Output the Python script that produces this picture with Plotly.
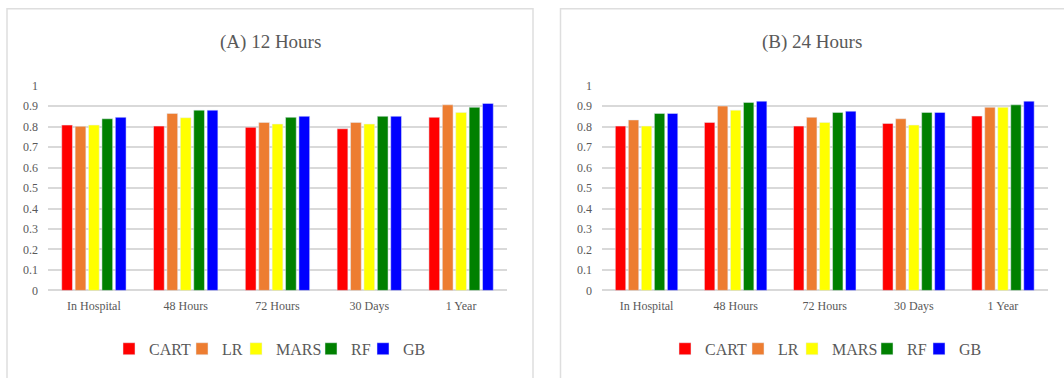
import plotly.graph_objects as go

categories = ["In Hospital", "48 Hours", "72 Hours", "30 Days", "1 Year"]
models = ["CART", "LR", "MARS", "RF", "GB"]
colors = ["#FF0000", "#ED7D31", "#FFFF00", "#008000", "#0000FF"]

# (A) 12 Hours
cart_12 = [0.808, 0.803, 0.797, 0.790, 0.846]
lr_12 = [0.802, 0.865, 0.821, 0.821, 0.907]
mars_12 = [0.808, 0.844, 0.813, 0.813, 0.870]
rf_12 = [0.839, 0.881, 0.846, 0.851, 0.895]
gb_12 = [0.846, 0.881, 0.851, 0.851, 0.914]

# (B) 24 Hours
cart_24 = [0.803, 0.821, 0.803, 0.816, 0.852]
lr_24 = [0.833, 0.901, 0.846, 0.839, 0.895]
mars_24 = [0.803, 0.881, 0.821, 0.808, 0.895]
rf_24 = [0.865, 0.919, 0.870, 0.870, 0.907]
gb_24 = [0.865, 0.925, 0.876, 0.870, 0.925]

y_ticks = [0, 0.1, 0.2, 0.3, 0.4, 0.5, 0.6, 0.7, 0.8, 0.9, 1]
y_tick_labels = ["0", "0.1", "0.2", "0.3", "0.4", "0.5", "0.6", "0.7", "0.8", "0.9", "1"]

W, H = 1064, 378
FONT = "Liberation Serif, Times New Roman, serif"
TXT = "#595959"
GRID = "#d9d9d9"

series_12 = [cart_12, lr_12, mars_12, rf_12, gb_12]
series_24 = [cart_24, lr_24, mars_24, rf_24, gb_24]
legend_widths = [28, 9, 30, 7, None]

fig = go.Figure()
for name, col, vals, lw in zip(models, colors, series_12, legend_widths):
    fig.add_trace(go.Bar(x=categories, y=vals, name=name, marker_color=col,
                         xaxis="x", yaxis="y", legend="legend", legendwidth=lw))
for name, col, vals, lw in zip(models, colors, series_24, legend_widths):
    fig.add_trace(go.Bar(x=categories, y=vals, name=name, marker_color=col,
                         xaxis="x2", yaxis="y2", legend="legend2", legendwidth=lw))

VS = 0.964  # vertical squeeze observed in the rendering pipeline


def px(x):
    return x / W


def py(y):
    yy = H / 2 + (y - H / 2) / VS
    return 1 - yy / H


y_dom = [py(290.5), py(85.7)]
xcommon = dict(tickfont=dict(family=FONT, size=12, color=TXT), showgrid=False,
               showline=False, zeroline=False, fixedrange=True, ticklabelstandoff=7)
ycommon = dict(range=[0, 1], tickvals=y_ticks, ticktext=y_tick_labels,
               tickfont=dict(family=FONT, size=12, color=TXT), showgrid=True,
               gridcolor=GRID, gridwidth=1.6, zeroline=True, zerolinecolor=GRID,
               zerolinewidth=1.6, showline=False, ticklabelstandoff=9, fixedrange=True)

legend_common = dict(orientation="h", xanchor="center", yanchor="middle",
                     font=dict(family=FONT, size=16, color=TXT), itemwidth=30,
                     bgcolor="rgba(0,0,0,0)", traceorder="normal")

fig.update_layout(
    width=W, height=H,
    margin=dict(l=0, r=0, t=0, b=0),
    paper_bgcolor="white", plot_bgcolor="white",
    barmode="group", bargap=0.27, bargroupgap=0.2,
    xaxis=dict(domain=[px(48), px(507)], anchor="y", **xcommon),
    yaxis=dict(domain=y_dom, anchor="x", **ycommon),
    xaxis2=dict(domain=[px(602), px(1047.5)], anchor="y2", **xcommon),
    yaxis2=dict(domain=y_dom, anchor="x2", **ycommon),
    legend=dict(x=px(270), y=py(349), **legend_common),
    legend2=dict(x=px(826), y=py(349), **legend_common),
    shapes=[
        dict(type="rect", xref="paper", yref="paper", x0=px(7), x1=px(533),
             y0=-0.1, y1=py(8.5), line=dict(color="#dedede", width=1.5), layer="below"),
        dict(type="rect", xref="paper", yref="paper", x0=px(560.5), x1=1.1,
             y0=-0.1, y1=py(8.5), line=dict(color="#dedede", width=1.5), layer="below"),
    ],
    annotations=[
        dict(text="(A) 12 Hours", xref="paper", yref="paper", x=px(270), y=py(42),
             showarrow=False, xanchor="center", yanchor="middle",
             font=dict(family=FONT, size=19, color=TXT)),
        dict(text="(B) 24 Hours", xref="paper", yref="paper", x=px(812), y=py(42),
             showarrow=False, xanchor="center", yanchor="middle",
             font=dict(family=FONT, size=19, color=TXT)),
    ],
)

page_fix = (
    "var s=document.createElement('style');"
    "s.textContent='html,body{margin:0!important;padding:0!important;overflow:hidden!important;"
    "width:1064px;height:378px;}';"
    "document.head.appendChild(s);"
)

fig.write_html("out.html",
               config={"displayModeBar": False, "responsive": False},
               post_script=page_fix)
